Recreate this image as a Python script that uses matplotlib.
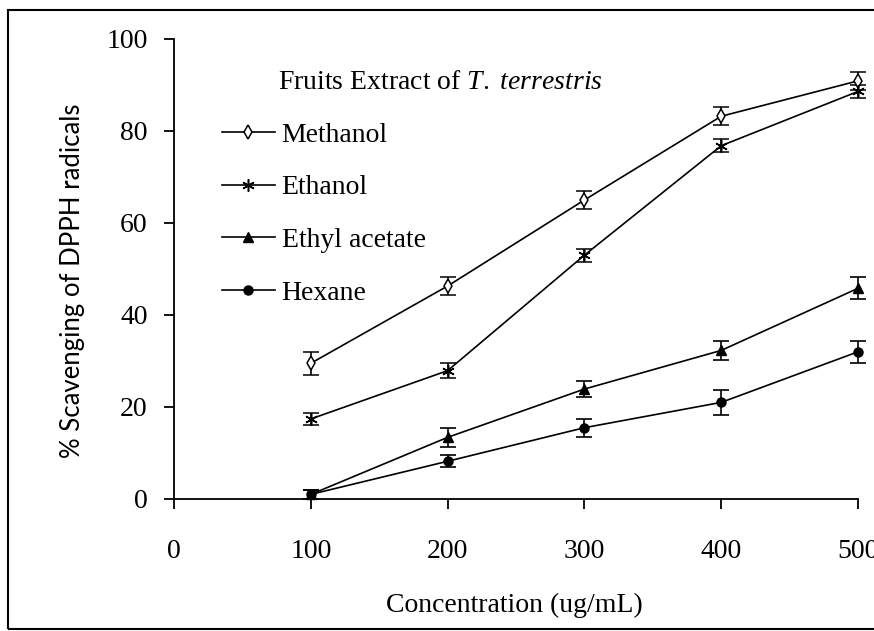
import matplotlib
matplotlib.use("Agg")
import matplotlib.pyplot as plt
from matplotlib.patches import Rectangle

plt.rcParams['mathtext.fontset'] = 'custom'
plt.rcParams['mathtext.rm'] = 'Liberation Serif'
plt.rcParams['mathtext.it'] = 'Liberation Serif:italic'

conc = [100, 200, 300, 400, 500]
methanol = [29.5, 46.3, 65.0, 83.2, 90.9]
methanol_err = [2.5, 2.0, 2.0, 2.0, 2.0]
ethanol = [17.4, 27.9, 53.0, 76.8, 88.6]
ethanol_err = [1.4, 1.6, 1.4, 1.4, 1.5]
ethyl_acetate = [1.0, 13.4, 23.9, 32.3, 45.8]
ethyl_acetate_err = [1.0, 2.0, 1.8, 2.0, 2.4]
hexane = [1.0, 8.2, 15.5, 21.0, 32.0]
hexane_err = [1.0, 1.3, 2.0, 2.7, 2.4]

xticks = [0, 100, 200, 300, 400, 500]
yticks = [0, 20, 40, 60, 80, 100]

serif = 'Liberation Serif'
fs = 20

fig = plt.figure(figsize=(8.74, 6.31), dpi=100)
ax = fig.add_axes([174/874, 1-499/631, (858-174)/874, (499-39)/631])

series = [
    ("Methanol", methanol, methanol_err, dict(marker='d', mfc='white', ms=7, mew=1.1)),
    ("Ethanol", ethanol, ethanol_err, dict(marker=(6, 2, 0), ms=9, mew=1.1)),
    ("Ethyl acetate", ethyl_acetate, ethyl_acetate_err, dict(marker='^', mfc='black', ms=7)),
    ("Hexane", hexane, hexane_err, dict(marker='o', mfc='black', ms=6.5)),
]
handles = []
for name, vals, err, mk in series:
    ax.errorbar(conc, vals, yerr=err, color='black', ecolor='black', elinewidth=1.2,
                capsize=5.5, capthick=1.2, lw=1.2, mec='black', clip_on=False, zorder=3, **mk)
    h, = ax.plot([], [], color='black', lw=1.2, mec='black', **mk)
    handles.append(h)

ax.set_xlim(0, 500)
ax.set_ylim(0, 100)
ax.set_xticks(xticks)
ax.set_yticks(yticks)
ax.set_xticklabels([str(v) for v in xticks], fontfamily=serif, fontsize=fs)
ax.set_yticklabels([str(v) for v in yticks], fontfamily=serif, fontsize=fs)
ax.tick_params(direction='out', length=7, width=1.3, color='black')
ax.tick_params(axis='x', pad=22)
ax.tick_params(axis='y', pad=12)
for s in ['top', 'right']:
    ax.spines[s].set_visible(False)
for s in ['left', 'bottom']:
    ax.spines[s].set_linewidth(1.3)

ax.set_xlabel("Concentration (ug/mL)", fontfamily=serif, fontsize=fs)
ax.xaxis.set_label_coords(0.497, -0.203)
ax.set_ylabel("% Scavenging of DPPH radicals", fontfamily='Lato', fontsize=18.5)
ax.yaxis.set_label_coords(-0.13, 0.474)

leg = ax.legend(handles, [s[0] for s in series], loc='upper left',
                bbox_to_anchor=(0.070, 0.819), frameon=False,
                prop={'family': serif, 'size': fs}, handlelength=1.9,
                handletextpad=0.25, labelspacing=0.98, borderaxespad=0, borderpad=0)
ax.text(0.152, 0.905, r"Fruits Extract of $\mathit{T.\ terrestris}$", transform=ax.transAxes,
        fontfamily=serif, fontsize=fs, va='center', ha='left')

fig.patches.append(Rectangle((8/874, 1-629/631), 0.995, 619/631, transform=fig.transFigure,
                             fill=False, edgecolor='black', lw=1.5))

fig.savefig("out.png", dpi=100)
